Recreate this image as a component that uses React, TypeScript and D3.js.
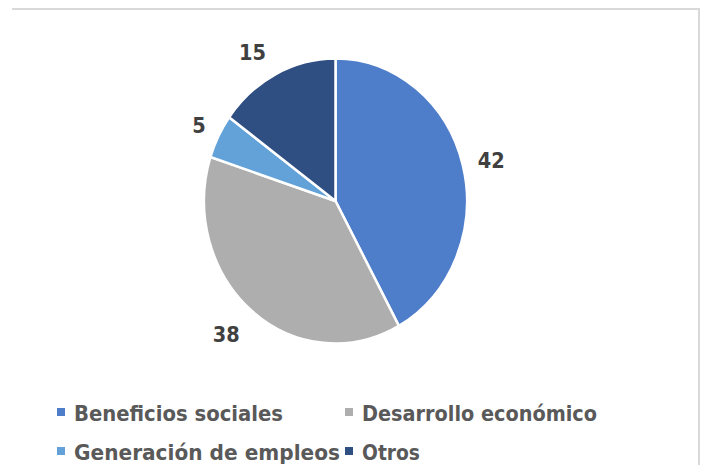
import React from "react";
import * as d3 from "d3";

const categories = ["Beneficios sociales", "Desarrollo económico", "Generación de empleos", "Otros"];
const values = [42, 38, 5, 15];
const colors = ["#4e7dca", "#aeaeae", "#62a2d9", "#2f4e82"];

// layout (not data)
const W = 707;
const H = 465;
const cx = 335.5;
const cy = 201;
const ry = 142.5;
const sxPie = 131.5 / 142.5;
const sxText = 0.88;
const labelR = 172;
const labelNudge: Record<string, [number, number]> = {
  "Beneficios sociales": [2, 2],
  "Desarrollo económico": [-8, 0],
  "Generación de empleos": [5, 2],
  "Otros": [-11, 4],
};
const legendPos: [number, number][] = [
  [57, 421],
  [345, 421],
  [57, 460],
  [345, 460],
];
const legendTextWidth = [209, 235, 266, 58];

const FONT = "'DejaVu Sans', Verdana, sans-serif";

export default function App() {
  const pie = d3
    .pie<number>()
    .sort(null)
    .value((d) => d)
    .startAngle(0)
    .endAngle(2 * Math.PI);
  const arcs = pie(values);
  const arc = d3.arc<d3.PieArcDatum<number>>().innerRadius(0).outerRadius(ry);
  const labelArc = d3.arc<d3.PieArcDatum<number>>().innerRadius(labelR).outerRadius(labelR);

  return (
    <svg
      width={W}
      height={H}
      style={{ position: "absolute", left: 0, top: 0, background: "#ffffff" }}
    >
      <rect x={0} y={0} width={W} height={H} fill="#ffffff" />
      {/* frame */}
      <line x1={12} y1={9} x2={700} y2={9} stroke="#d9d9d9" strokeWidth={2} />
      <line x1={699} y1={8} x2={699} y2={H} stroke="#d9d9d9" strokeWidth={2} />

      <g transform={`translate(${cx},${cy}) scale(${sxPie},1)`}>
        {arcs.map((a, i) => (
          <path
            key={categories[i]}
            d={arc(a) || ""}
            fill={colors[i]}
            stroke="#ffffff"
            strokeWidth={2.5}
            vectorEffect="non-scaling-stroke"
          />
        ))}
      </g>

      {arcs.map((a, i) => {
        const [lx, ly] = labelArc.centroid(a);
        const n = labelNudge[categories[i]];
        const x = cx + lx * sxPie + n[0];
        const y = cy + ly + n[1] + 8;
        return (
          <g key={"l" + i} transform={`translate(${x},${y}) scale(${sxText},1)`}>
            <text
              textAnchor="middle"
              fontFamily={FONT}
              fontWeight="bold"
              fontSize={22}
              fill="#404040"
            >
              {values[i]}
            </text>
          </g>
        );
      })}

      {categories.map((c, i) => {
        const [x, y] = legendPos[i];
        return (
          <g key={"lg" + i}>
            <rect x={x} y={y - 13} width={8} height={8} fill={colors[i]} />
            <text
              x={x + 17}
              y={y}
              fontFamily={FONT}
              fontWeight="bold"
              fontSize={22}
              fill="#595959"
              textLength={legendTextWidth[i]}
              lengthAdjust="spacingAndGlyphs"
            >
              {c}
            </text>
          </g>
        );
      })}
    </svg>
  );
}
